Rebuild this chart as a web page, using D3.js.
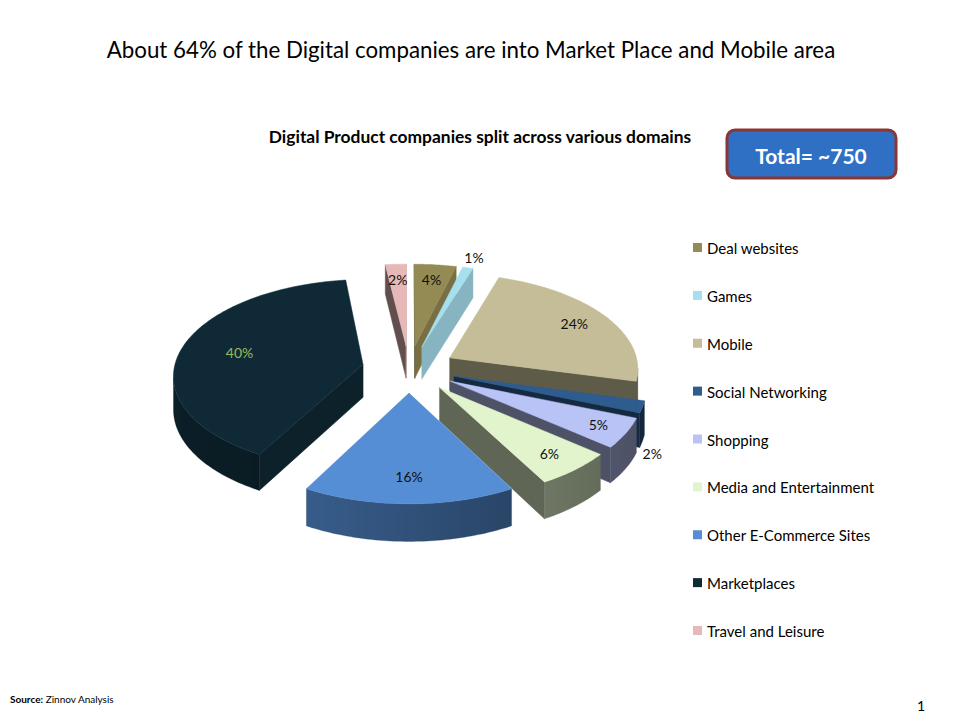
<!DOCTYPE html>
<html lang="en">
<head>
<meta charset="UTF-8">
<title>Digital Product companies split across various domains</title>
<script src="https://cdn.jsdelivr.net/npm/d3@7/dist/d3.min.js"></script>
<style>
  body { margin: 0; background: #fff; }
  svg { display: block; font-family: Lato, "Open Sans", sans-serif; }
</style>
</head>
<body>
<svg id="chart" width="960" height="720"></svg>
<script>
// chart data
const categories = ["Deal websites", "Games", "Mobile", "Social Networking", "Shopping",
  "Media and Entertainment", "Other E-Commerce Sites", "Marketplaces", "Travel and Leisure"];
const shares = [4, 1, 24, 2, 5, 6, 16, 40, 2];
const colors = ["#948A54", "#A6DFEE", "#C4BD97", "#2E5C8F", "#B9C3F5",
  "#E2F4CC", "#558ED5", "#0F2A36", "#E6B9B8"];
const labelColors = ["#111", "#111", "#111", "#111", "#111", "#111", "#111", "#9BBB59", "#111"];
// where each % label sits: fraction of radius, and height (fraction of thickness)
const labelRadius = [0.8, 1.15, 0.8, 1.05, 0.85, 0.82, 0.77, 0.68, 0.8];
const labelDrop = [0, 0, 0, 1.3, 0, 0, 0, 0, 0];

const svg = d3.select("#chart");
const defs = svg.append("defs");

// headings
svg.append("text")
  .attr("x", 471).attr("y", 58)
  .attr("text-anchor", "middle")
  .attr("font-size", 22.3)
  .text("About 64% of the Digital companies are into Market Place and Mobile area");

svg.append("text")
  .attr("x", 480).attr("y", 143)
  .attr("text-anchor", "middle")
  .attr("font-size", 17.4)
  .attr("font-weight", "bold")
  .text("Digital Product companies split across various domains");

// total box
svg.append("rect")
  .attr("x", 727).attr("y", 130)
  .attr("width", 169).attr("height", 48)
  .attr("rx", 8)
  .attr("fill", "#3070C4")
  .attr("stroke", "#8B3535")
  .attr("stroke-width", 3);
svg.append("text")
  .attr("x", 811).attr("y", 155)
  .attr("text-anchor", "middle")
  .attr("dominant-baseline", "central")
  .attr("font-size", 21)
  .attr("font-weight", "bold")
  .attr("fill", "#fff")
  .text("Total= ~750");

// 3d pie projection
const cx = 409, cy = 369, R = 189, H = 38, explode = 47;
const tilt = 30 * Math.PI / 180, persp = 0.1;
const sinT = Math.sin(tilt), cosT = Math.cos(tilt);

function project(X, Z, Y) {
  const s = 1 / (1 + persp * Z / R);
  return [cx + X * s, cy - (Z * sinT + Y * cosT) * s];
}

function shade(c, k) {
  const r = d3.rgb(c);
  return d3.rgb(r.r * k, r.g * k, r.b * k).toString();
}

const line = d3.line();
const arcs = d3.pie().sort(null).value(d => d)(shares);

const slices = arcs.map((a, i) => {
  const mid = (a.startAngle + a.endAngle) / 2;
  const ox = explode * Math.sin(mid), oz = explode * Math.cos(mid);
  const pt = (t, r, y) => project(ox + r * Math.sin(t), oz + r * Math.cos(t), y);
  const n = Math.max(2, Math.ceil((a.endAngle - a.startAngle) / (Math.PI / 180)));
  const angles = d3.range(n + 1).map(k => a.startAngle + (a.endAngle - a.startAngle) * k / n);
  return { i, a, mid, pt, angles };
});

const pieG = svg.append("g");

slices.slice().sort((p, q) => Math.cos(q.mid) - Math.cos(p.mid)).forEach(sl => {
  const g = pieG.append("g");
  const c = colors[sl.i];
  const { pt, angles, a } = sl;
  const apexTop = pt(0, 0, 0), apexBot = pt(0, 0, -H);

  // radial walls
  const o0 = pt(a.startAngle, R, 0), o1 = pt(a.endAngle, R, 0);
  const radial = [
    { top: [apexTop, o0], bot: [apexBot, pt(a.startAngle, R, -H)], phi: a.startAngle - Math.PI / 2 },
    { top: [o1, apexTop], bot: [pt(a.endAngle, R, -H), apexBot], phi: a.endAngle + Math.PI / 2 }
  ];
  radial.forEach(w => {
    if (w.top[1][0] - w.top[0][0] < 0) {
      const k = Math.max(0.42, 0.55 + 0.27 * Math.sin(w.phi));
      g.append("path")
        .attr("d", line(w.top.concat(w.bot.slice().reverse())) + "Z")
        .attr("fill", shade(c, k))
        .attr("stroke", shade(c, k)).attr("stroke-width", 0.5);
    }
  });

  // outer wall, split into visible runs
  const runs = [];
  let run = null;
  for (let k = 0; k < angles.length - 1; k++) {
    const p0 = pt(angles[k], R, 0), p1 = pt(angles[k + 1], R, 0);
    if (p1[0] < p0[0]) {
      if (!run) { run = [angles[k]]; runs.push(run); }
      run.push(angles[k + 1]);
    } else run = null;
  }
  runs.forEach((r, j) => {
    const top = r.map(t => pt(t, R, 0));
    const bot = r.map(t => pt(t, R, -H));
    const x1 = top[0][0], x2 = top[top.length - 1][0];
    const id = `wall${sl.i}_${j}`;
    const grad = defs.append("linearGradient")
      .attr("id", id)
      .attr("gradientUnits", "userSpaceOnUse")
      .attr("x1", x1).attr("y1", 0).attr("x2", x2).attr("y2", 0);
    r.forEach((t, m) => {
      grad.append("stop")
        .attr("offset", x2 === x1 ? 0 : (top[m][0] - x1) / (x2 - x1))
        .attr("stop-color", shade(c, 0.57 - 0.17 * Math.sin(t)));
    });
    g.append("path")
      .attr("d", line(top.concat(bot.reverse())) + "Z")
      .attr("fill", `url(#${id})`)
      .attr("stroke", shade(c, 0.45)).attr("stroke-width", 0.3);
  });

  // top face
  g.append("path")
    .attr("d", line([apexTop].concat(angles.map(t => pt(t, R, 0)))) + "Z")
    .attr("fill", c)
    .attr("stroke", c).attr("stroke-width", 0.5);
});

// percentage labels
svg.append("g").selectAll("text")
  .data(slices)
  .join("text")
  .attr("x", d => d.pt(d.mid, R * labelRadius[d.i], -H * labelDrop[d.i])[0])
  .attr("y", d => d.pt(d.mid, R * labelRadius[d.i], -H * labelDrop[d.i])[1])
  .attr("text-anchor", "middle")
  .attr("dominant-baseline", "central")
  .attr("font-size", 14)
  .attr("fill", d => labelColors[d.i])
  .text(d => shares[d.i] + "%");

// legend
const ly = d3.scalePoint().domain(categories).range([248, 631]);
const legend = svg.append("g").selectAll("g")
  .data(categories)
  .join("g")
  .attr("transform", d => `translate(693,${ly(d)})`);
legend.append("rect")
  .attr("x", 0).attr("y", -5)
  .attr("width", 9).attr("height", 9)
  .attr("fill", (d, i) => colors[i]);
legend.append("text")
  .attr("x", 14).attr("y", 0)
  .attr("dominant-baseline", "central")
  .attr("font-size", 15)
  .text(d => d);

// footer
const src = svg.append("text")
  .attr("x", 10).attr("y", 703)
  .attr("font-size", 10);
src.append("tspan").attr("font-weight", "bold").text("Source:");
src.append("tspan").text(" Zinnov Analysis");

svg.append("text")
  .attr("x", 921).attr("y", 711)
  .attr("text-anchor", "middle")
  .attr("font-size", 14)
  .text("1");
</script>
</body>
</html>
